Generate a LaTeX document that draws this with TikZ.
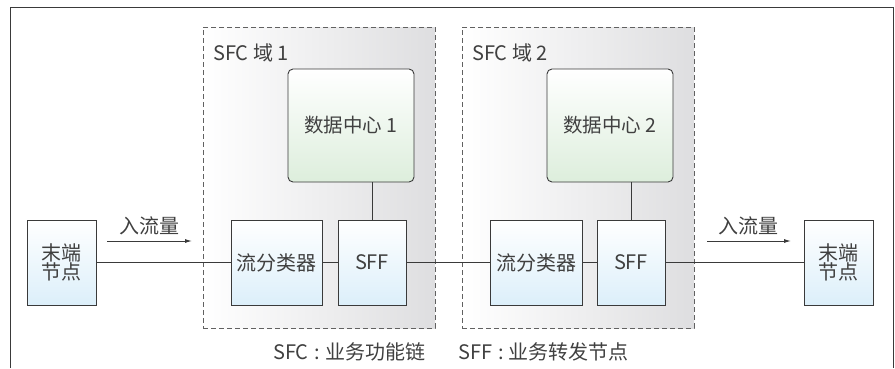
\documentclass[tikz,border=0pt]{standalone}
\usepackage{fontspec}
\setmainfont{Noto Sans CJK SC}
\usetikzlibrary{arrows.meta}
\definecolor{edge}{HTML}{3A3A3A}
\definecolor{txt}{HTML}{404040}
\definecolor{boxblue}{HTML}{DCEFFA}
\definecolor{boxgreen}{HTML}{DDEEDC}
\definecolor{domgray}{HTML}{DEDEE0}
\tikzset{
  unit/.style={draw=edge, line width=0.9pt, bottom color=boxblue, top color=white, minimum height=85pt, inner sep=0pt, align=center, text=txt, font=\fontsize{20}{23}\selectfont},
  dcbox/.style={draw=edge, line width=0.9pt, rounded corners=5pt, bottom color=boxgreen, top color=white, minimum width=126pt, minimum height=113pt, inner sep=0pt, text=txt, font=\fontsize{19.5}{22}\selectfont},
  sfcdomain/.style={draw=edge!80, dash pattern=on 5pt off 3pt, line width=0.8pt, left color=white, right color=domgray, minimum width=232pt, minimum height=301pt, inner sep=0pt},
  link/.style={draw=edge, line width=0.9pt},
  flow/.style={draw=edge, line width=0.9pt, -{Latex[length=7pt,width=4pt]}},
  lbl/.style={text=txt, font=\fontsize{20}{23}\selectfont, inner sep=0pt},
}
\begin{document}
\begin{tikzpicture}[x=1pt,y=-1pt]
\useasboundingbox (0,0) rectangle (895,368);
\draw[draw=edge, line width=1pt] (10,368) -- (10,7) -- (893,7) -- (893,368);
% domains
\node[sfcdomain] (d1) at (319,177.5) {};
\node[sfcdomain] (d2) at (578,177.5) {};
\node[lbl, anchor=west] (d1l) at (213,53) {SFC 域 1};
\node[lbl, anchor=west] (d2l) at (472,53) {SFC 域 2};
% data centres
\node[dcbox] (dc1) at (351,125.5) {数据中心 1};
\node[dcbox] (dc2) at (610,125.5) {数据中心 2};
% units
\node[unit, minimum width=69pt] (el) at (61.5,262.5) {末端\\[-4pt]节点};
\node[unit, minimum width=91pt] (c1) at (276.5,262.5) {流分类器};
\node[unit, minimum width=68pt] (s1) at (372,262.5) {SFF};
\node[unit, minimum width=92pt] (c2) at (536,262.5) {流分类器};
\node[unit, minimum width=68pt] (s2) at (631,262.5) {SFF};
\node[unit, minimum width=69pt] (er) at (838.5,262.5) {末端\\[-4pt]节点};
% links
\draw[link] (el) -- (c1);
\draw[link] (c1) -- (s1);
\draw[link] (s1) -- (c2);
\draw[link] (c2) -- (s2);
\draw[link] (s2) -- (er);
\draw[link] (s1.north) -- (s1.north |- dc1.south);
\draw[link] (s2.north) -- (s2.north |- dc2.south);
% inflow arrows
\coordinate (a1s) at (107,241);
\coordinate (a1e) at (192,241);
\coordinate (a2s) at (707,241);
\coordinate (a2e) at (791,241);
\draw[flow] (a1s) -- (a1e);
\draw[flow] (a2s) -- (a2e);
\node[lbl] (f1) at (149,226) {入流量};
\node[lbl] (f2) at (748,226) {入流量};
% legend
\node[lbl, anchor=west] (n1) at (273,352) {SFC\kern6pt:\kern5pt业务功能链};
\node[lbl, anchor=west] (n2) at (458,352) {SFF\kern6pt:\kern5pt业务转发节点};
\end{tikzpicture}
\end{document}
